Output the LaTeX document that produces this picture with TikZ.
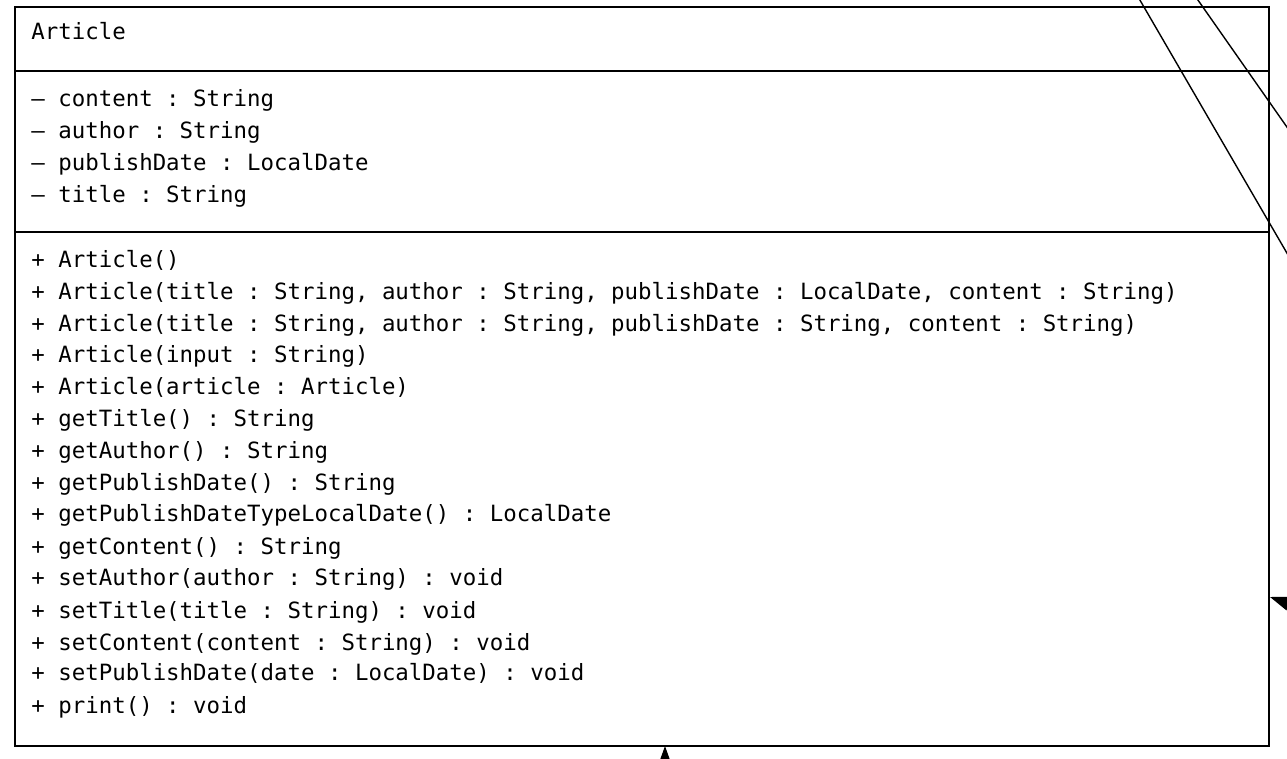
\documentclass[tikz,border=0pt]{standalone}
\usepackage{fontspec}
\setmonofont{DejaVu Sans Mono}
\usetikzlibrary{arrows.meta}

\begin{document}
\begin{tikzpicture}[x=0.5pt, y=-0.5pt,
    member/.style={anchor=base west, inner sep=0pt, font=\ttfamily\fontsize{11.2}{15.9}\selectfont},
    boxline/.style={line width=1pt},
    assoc/.style={line width=0.7pt},
    navarrow/.style={line width=0.7pt, -{Triangle[length=10pt, width=7pt]}}]
            \useasboundingbox (0,0) rectangle (1287,759);
            \clip (0,0) rectangle (1287,759);

            % Class box
            \draw[boxline] (15,7) rectangle (1269,746);
            \draw[boxline] (15,71) -- (1269,71);
            \draw[boxline] (15,232) -- (1269,232);

            % Name
            \node[member] (name) at (31,40) {Article};

            % Attributes
            \node[member] (attr1) at (31,107) {– content : String};
            \node[member] (attr2) at (31,139) {– author : String};
            \node[member] (attr3) at (31,171) {– publishDate : LocalDate};
            \node[member] (attr4) at (31,203) {– title : String};

            % Operations
            \node[member] (op1) at (31,268) {+ Article()};
            \node[member] (op2) at (31,300) {+ Article(title : String, author : String, publishDate : LocalDate, content : String)};
            \node[member] (op3) at (31,332) {+ Article(title : String, author : String, publishDate : String, content : String)};
            \node[member] (op4) at (31,363) {+ Article(input : String)};
            \node[member] (op5) at (31,395) {+ Article(article : Article)};
            \node[member] (op6) at (31,427) {+ getTitle() : String};
            \node[member] (op7) at (31,459) {+ getAuthor() : String};
            \node[member] (op8) at (31,491) {+ getPublishDate() : String};
            \node[member] (op9) at (31,522) {+ getPublishDateTypeLocalDate() : LocalDate};
            \node[member] (op10) at (31,554) {+ getContent() : String};
            \node[member] (op11) at (31,586) {+ setAuthor(author : String) : void};
            \node[member] (op12) at (31,618) {+ setTitle(title : String) : void};
            \node[member] (op13) at (31,650) {+ setContent(content : String) : void};
            \node[member] (op14) at (31,681) {+ setPublishDate(date : LocalDate) : void};
            \node[member] (op15) at (31,713) {+ print() : void};

            % Connector ends
            \coordinate (aTop) at (1130,-17);
            \coordinate (aEnd) at (1320,310);
            \coordinate (bTop) at (1186,-17);
            \coordinate (bEnd) at (1310,160);
            \coordinate (rTip) at (1270,597);
            \coordinate (rFrom) at (1364,630);
            \coordinate (sTip) at (665,746);
            \coordinate (sFrom) at (665,820);

            % Associations
            \draw[assoc] (aTop) -- (aEnd);
            \draw[assoc] (bTop) -- (bEnd);
            \draw[navarrow] (rFrom) -- (rTip);
            \draw[navarrow] (sFrom) -- (sTip);
        \end{tikzpicture}
\end{document}
